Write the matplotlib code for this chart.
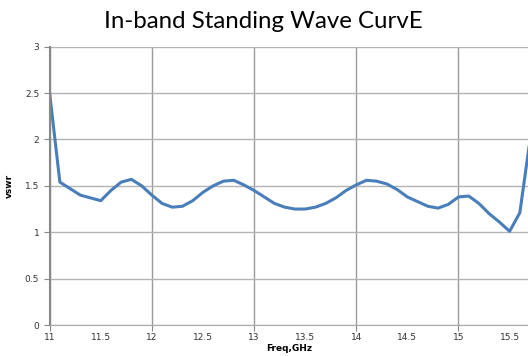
import matplotlib.pyplot as plt
from matplotlib.ticker import MultipleLocator

# frequency (GHz) and VSWR
freq = [11.0, 11.1, 11.2, 11.3, 11.4, 11.5, 11.6, 11.7, 11.8, 11.9,
        12.0, 12.1, 12.2, 12.3, 12.4, 12.5, 12.6, 12.7, 12.8, 12.9,
        13.0, 13.1, 13.2, 13.3, 13.4, 13.5, 13.6, 13.7, 13.8, 13.9,
        14.0, 14.1, 14.2, 14.3, 14.4, 14.5, 14.6, 14.7, 14.8, 14.9,
        15.0, 15.1, 15.2, 15.3, 15.4, 15.5, 15.6, 15.7]
vswr = [2.50, 1.54, 1.47, 1.40, 1.37, 1.34, 1.45, 1.54, 1.57, 1.50,
        1.40, 1.31, 1.27, 1.28, 1.34, 1.43, 1.50, 1.55, 1.56, 1.51,
        1.45, 1.38, 1.31, 1.27, 1.25, 1.25, 1.27, 1.31, 1.37, 1.45,
        1.51, 1.56, 1.55, 1.52, 1.46, 1.38, 1.33, 1.28, 1.26, 1.30,
        1.38, 1.39, 1.31, 1.20, 1.11, 1.01, 1.21, 2.00]

fig = plt.figure(figsize=(5.28, 3.56), dpi=100)
ax = fig.add_axes([0.094, 0.087, 0.906, 0.782])

ax.plot(freq, vswr, color='#4a7ebb', lw=2.2, solid_joinstyle='round')
ax.set_xlim(11, 15.68)
ax.set_ylim(0, 3)

fmt = plt.FuncFormatter(lambda v, p: '%g' % v)
# whole GHz: grid + tick marks, half GHz: labels only
ax.xaxis.set_major_locator(MultipleLocator(1))
ax.xaxis.set_minor_locator(MultipleLocator(1, offset=0.5))
ax.xaxis.set_major_formatter(fmt)
ax.xaxis.set_minor_formatter(fmt)
ax.yaxis.set_major_locator(MultipleLocator(0.5))
ax.yaxis.set_major_formatter(fmt)
ax.tick_params(axis='x', which='major', length=4, color='#888888',
               labelsize=6.5, pad=2, labelcolor='#333333')
ax.tick_params(axis='x', which='minor', length=0, labelsize=6.5, pad=6,
               labelcolor='#333333')
ax.tick_params(axis='y', length=4, labelsize=6.5, color='#888888', labelcolor='#333333')
ax.grid(True, axis='x', which='major', color='#9a9a9a', lw=1)
ax.grid(True, axis='y', which='major', color='#b4b4b4', lw=1)
ax.set_axisbelow(True)

for s in ['top', 'right']:
    ax.spines[s].set_visible(False)
ax.spines['left'].set_color('#888888')
ax.spines['left'].set_linewidth(1.5)
ax.spines['bottom'].set_color('#aaaaaa')

ax.set_xlabel('Freq,GHz', fontsize=6.5, fontweight='bold', labelpad=1)
ax.set_ylabel('vswr', fontsize=6.5, fontweight='bold', labelpad=8)
fig.text(0.498, 0.94, 'In-band Standing Wave CurvE', ha='center', va='center',
         fontsize=17.3, family='Lato')

fig.savefig('out.png', dpi=100)
